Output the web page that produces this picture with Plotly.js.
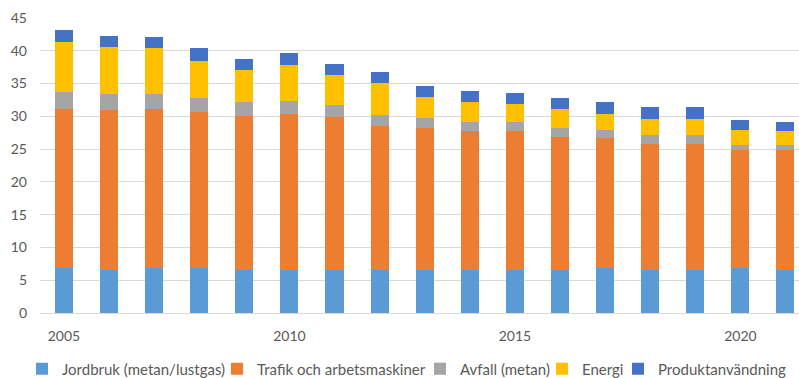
<!DOCTYPE html>
<html>
<head>
<meta charset="utf-8">
<script src="https://cdn.plot.ly/plotly-3.0.1.min.js"></script>
<style>html,body{margin:0;padding:0;background:#fff;}#chart{width:799px;height:378px;}</style>
</head>
<body>
<div id="chart"></div>
<script>
const years = [2005,2006,2007,2008,2009,2010,2011,2012,2013,2014,2015,2016,2017,2018,2019,2020,2021];
const jordbruk = [6.8,6.6,6.8,6.8,6.6,6.6,6.6,6.6,6.6,6.6,6.6,6.6,6.8,6.6,6.6,6.8,6.6];
const trafik = [24.3,24.3,24.3,23.9,23.5,23.8,23.3,22.0,21.6,21.1,21.1,20.3,19.9,19.2,19.2,18.0,18.2];
const avfall = [2.6,2.5,2.3,2.1,2.1,2.0,1.8,1.6,1.6,1.5,1.5,1.3,1.2,1.3,1.3,0.8,0.8];
const energi = [7.7,7.2,7.0,5.7,4.8,5.4,4.6,4.9,3.2,3.0,2.7,2.9,2.5,2.5,2.5,2.3,2.1];
const produkt = [1.8,1.7,1.7,1.9,1.7,1.8,1.7,1.7,1.7,1.7,1.7,1.7,1.8,1.8,1.8,1.5,1.5];
const seriesNames = ['Jordbruk (metan/lustgas)','Trafik och arbetsmaskiner','Avfall (metan)','Energi','Produktanvändning'];
const xTicks = [2005,2010,2015,2020];
const yTicks = [0,5,10,15,20,25,30,35,40,45];

const colors = ['#5B9BD5','#ED7D31','#A5A5A5','#FFC000','#4472C4'];
const values = [jordbruk, trafik, avfall, energi, produkt];
const legendIds = ['legend','legend2','legend3','legend4','legend5'];
const traces = values.map((v,i) => ({
  type:'bar', x:years, y:v, name:seriesNames[i], legend:legendIds[i],
  marker:{color:colors[i], line:{width:0}},
  hoverinfo:'x+y+name'
}));
const fam = 'Lato, "Open Sans", sans-serif';
const grey = '#595959';
// legend entry left positions (px, container)
const legendLeft = [22, 217, 420, 542, 618];
const layout = {
  width:799, height:378,
  margin:{l:40, r:0, t:18, b:65},
  barmode:'stack', bargap:0.6,
  paper_bgcolor:'#fff', plot_bgcolor:'#fff',
  font:{family:fam, color:grey, size:14},
  showlegend:true,
  xaxis:{type:'linear', range:[2004.47,2021.3], tickvals:xTicks, ticktext:xTicks.map(String),
         showgrid:false, zeroline:false, showline:false, ticks:'', ticklabelstandoff:13,
         tickfont:{family:fam, color:grey, size:14}, fixedrange:true},
  yaxis:{range:[0,45], tickvals:yTicks, showgrid:true, gridcolor:'#D9D9D9', gridwidth:1,
         zeroline:true, zerolinecolor:'#D9D9D9', zerolinewidth:1, showline:false, ticks:'',
         ticklabelstandoff:12, tickfont:{family:fam, color:grey, size:14}, fixedrange:true}
};
legendIds.forEach((id,i) => {
  layout[id] = {orientation:'h', xref:'container', x:legendLeft[i]/799, xanchor:'left',
                yref:'container', y:1-369/378, yanchor:'middle', itemwidth:30,
                bgcolor:'rgba(0,0,0,0)', font:{family:fam, color:grey, size:15}};
});
Plotly.newPlot('chart', traces, layout, {displayModeBar:false, staticPlot:true});
</script>
</body>
</html>
